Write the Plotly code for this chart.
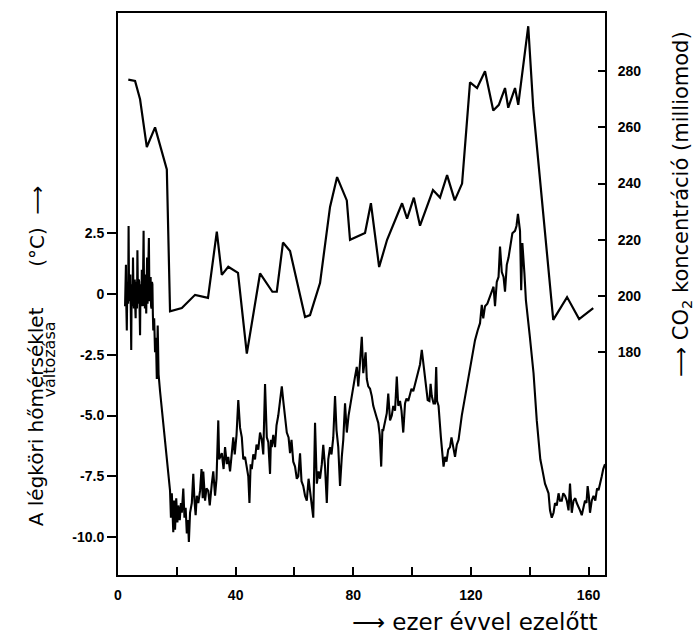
import plotly.graph_objects as go

# CO2 concentration (ppm) vs. thousand years before present
co2_age = [3.5, 5.8, 7.5, 9.8, 12.6, 16.0, 16.6, 17.7, 21.7, 26.2, 30.6, 33.6, 35.3, 37.5, 40.8,
           43.8, 48.3, 52.5, 54.0, 56.1, 58.5, 63.6, 65.3, 68.7, 72.1, 74.5, 77.8, 78.9, 84.0,
           86.0, 88.8, 91.5, 96.6, 98.3, 100.6, 102.7, 107.1, 109.5, 111.9, 114.5, 117.0, 118.5,
           119.7, 122.1, 124.8, 127.6, 129.5, 131.6, 132.7, 135.0, 136.1, 139.5, 141.2, 148.0,
           152.7, 156.8, 161.6]
co2_ppm = [277, 276.5, 270, 253, 260, 247, 245, 194.5, 195.7, 200.4, 199.3, 222.9, 207.5, 210.4, 208.2,
           179.5, 208, 201.5, 201.5, 219, 216, 192.5, 193.2, 204.6, 231.7, 242.3, 234, 220, 222.4,
           233, 210.3, 220, 233, 227.5, 235, 225, 237.7, 235, 243, 234, 240, 260,
           276, 274, 280, 266, 268, 274, 267, 274, 268, 296, 267, 191.5,
           199.6, 191.8, 195.7]

# Temperature change (deg C) vs. thousand years before present
temp_age = [2.40, 2.55, 2.70, 2.85, 3.00, 3.15, 3.30, 3.45, 3.60, 3.75, 3.90, 4.05, 4.20, 4.35, 4.50,
            4.65, 4.80, 4.95, 5.10, 5.25, 5.40, 5.55, 5.70, 5.85, 6.00, 6.15, 6.30, 6.45, 6.60, 6.75,
            6.90, 7.05, 7.20, 7.35, 7.50, 7.65, 7.80, 7.95, 8.10, 8.25, 8.40, 8.55, 8.70, 8.85, 9.00,
            9.15, 9.30, 9.45, 9.60, 9.75, 9.90, 10.05, 10.20, 10.35, 10.50, 10.65, 10.80, 10.95, 11.10,
            11.25, 11.40, 11.55, 11.70, 11.85, 12.00,
            12.3, 12.6, 12.9, 13.2, 13.5, 13.8, 14.3,
            17.7, 18.0, 18.3, 18.8, 19.1, 19.4, 19.8, 20.2, 20.5, 21.0, 21.4, 21.7, 22.2, 22.6, 23.0,
            23.4, 23.8, 24.1, 24.5, 25.1, 25.6, 26.0, 26.4, 26.8, 27.3, 27.9, 28.4, 28.8, 29.0, 29.6,
            30.1, 30.7, 31.2, 31.9, 32.4, 33.0, 33.5, 34.1, 34.4,
            35.3, 35.9, 36.4, 37.0, 37.5, 38.1, 38.7, 39.2, 39.7, 40.3, 40.9, 41.5, 42.1, 42.6, 43.2,
            43.8, 44.3, 44.7, 45.1, 45.5, 46.0, 46.6, 47.1, 47.7, 48.3, 48.9, 49.4, 50.0, 50.3, 50.6,
            51.1, 51.7, 52.0, 52.3, 52.8, 53.4, 53.9, 54.5, 55.1, 55.7, 56.2, 56.8, 57.4, 58.0, 58.5,
            59.0, 59.6, 60.2, 60.8, 61.3, 61.9, 62.4, 63.0, 63.6, 64.2, 64.8, 65.3, 65.9, 66.4, 67.0,
            67.6, 68.2, 68.7, 69.3, 69.8, 70.4, 71.0, 71.5, 72.1, 72.6, 73.2, 73.8, 74.3, 74.9, 75.5,
            76.1, 76.6, 77.2, 77.8, 78.4, 78.9, 79.5, 80.0, 80.6, 81.2, 81.7, 82.3, 82.9, 83.4, 83.8,
            84.2, 84.6, 85.1, 85.7, 86.3, 86.8, 87.4, 88.0, 88.5, 89.0, 89.5, 89.9, 90.2, 90.8, 91.4,
            91.9, 92.5, 93.1, 93.6, 94.2, 94.8, 95.3, 95.9, 96.4, 97.0, 97.6, 98.1, 98.7, 99.3, 99.8,
            100.4, 101.0, 101.5, 102.1, 102.7, 103.3, 103.8, 104.4, 104.9, 105.3, 105.9, 106.3, 106.7,
            107.3, 107.8, 108.2, 108.5, 109.0, 109.8, 110.7, 111.2, 111.7, 112.3, 112.9, 113.4, 114.0,
            114.6, 115.2, 115.8, 116.9, 118.0, 119.2, 120.3, 121.4, 122.3, 123.1, 123.7, 124.2, 124.8,
            125.6, 126.5, 127.1, 127.7, 128.2, 128.8, 129.4, 129.9, 130.5, 131.1, 131.6, 132.2, 132.8,
            133.4, 134.1, 135.0, 135.5, 136.0, 136.4, 136.7, 137.1, 137.5, 138.2, 138.7, 140.0, 141.3,
            142.4, 143.6, 144.1, 144.6, 145.2, 145.8, 146.4, 146.9, 147.5, 148.1, 148.6, 149.2, 149.8,
            150.3, 150.9, 151.4, 152.0, 152.6, 153.2, 153.7, 154.3, 154.9, 155.5, 156.0, 156.6, 157.1,
            157.7, 158.2, 158.8, 159.3, 159.7, 160.1, 160.5, 161.1, 161.7, 162.3, 162.9, 163.4, 164.0,
            164.5, 165.0, 165.6]
temp_dc = [-0.5, 0.4, 1.2, -0.6, -1.5, 0.3, 0.5, -0.4, 2.8, 0.2, -0.3, 0.6, 0.8, -0.7, -2.3,
           0.4, 0.2, -0.5, 1.5, 0.1, -0.6, 0.5, 0.6, -0.5, -1.0, 0.5, 0.4, -0.6, 1.8, 0.3,
           -0.4, 0.6, 0.5, -0.7, -1.7, 0.4, 0.3, -0.5, 1.0, 0.2, -0.5, 0.6, 2.6, 0.3, 0.0,
           -0.6, 0.8, 0.1, -0.8, 0.5, 1.5, -0.4, 0.2, 0.7, 2.3, 0.4, -0.3, 0.5, 0.7,
           -0.5, -0.6, 0.5, 0.4, -0.8, -1.5,
           -1.0, -2.4, -1.8, -3.5, -1.3, -3.3, -4.0,
           -8.1, -9.2, -8.2, -9.8, -8.5, -9.7, -8.4, -9.4, -8.7, -9.3, -8.6, -9.0, -8.0, -9.2, -8.8,
           -9.85, -9.3, -10.2, -9.0, -8.6, -7.4, -8.5, -9.1, -8.3, -8.6, -8.1, -7.2, -8.4, -7.3, -8.5,
           -8.0, -8.1, -8.7, -7.8, -7.3, -8.3, -7.6, -5.2, -6.8,
           -6.55, -7.2, -6.3, -7.0, -6.7, -7.3, -6.55, -5.9, -6.6, -5.8, -4.36, -5.5, -5.9, -6.8, -6.7,
           -7.2, -7.5, -8.6, -7.0, -7.2, -6.6, -6.8, -6.2, -6.4, -5.7, -6.0, -6.6, -3.7, -5.4, -5.9,
           -6.1, -7.4, -6.0, -6.3, -5.8, -6.3, -5.4, -5.0, -4.4, -3.8, -4.4, -5.0, -5.7, -5.9, -6.55,
           -6.0, -6.9, -7.1, -7.6, -7.5, -6.55, -7.7, -7.9, -8.3, -8.5, -7.6, -8.07, -8.6, -9.2, -5.3,
           -7.8, -7.3, -7.6, -7.0, -6.2, -7.1, -8.6, -6.8, -6.3, -6.6, -5.9, -4.2, -5.6, -6.3, -7.9,
           -6.7, -6.0, -4.5, -5.7, -5.0, -4.6, -4.3, -3.8, -3.4, -3.0, -3.8, -2.8, -1.76, -3.26, -2.9,
           -2.4, -3.5, -3.8, -3.9, -4.2, -4.6, -4.9, -5.1, -5.3, -5.8, -7.1, -5.6, -5.6, -5.2, -4.9,
           -4.1, -5.2, -5.0, -4.6, -4.8, -3.4, -4.6, -4.4, -4.8, -5.7, -4.5, -4.3, -4.4, -4.1, -3.9,
           -4.0, -3.7, -3.5, -3.26, -2.9, -2.3, -2.8, -3.26, -3.9, -4.36, -4.4, -3.7, -4.2,
           -4.5, -4.5, -3.0, -4.4, -4.6, -5.9, -7.1, -6.7, -6.9, -6.4, -6.3, -5.9, -6.3,
           -6.7, -6.2, -6.0, -5.0, -4.2, -3.4, -2.6, -1.9, -1.5, -1.2, -0.45, -1.0, -0.5,
           -0.4, -0.1, 0.1, 0.3, -0.5, 0.5, 0.7, 1.95, 0.9, 0.7, 0.1, 1.2, 1.5,
           2.0, 2.5, 2.6, 2.8, 3.3, 2.7, 2.6, 0.16, 2.1, 0.85, -0.25, -1.7, -3.26,
           -5.2, -6.8, -7.1, -7.4, -7.8, -8.0, -8.2, -8.9, -9.2, -9.0, -8.6, -8.7, -8.2,
           -8.5, -8.5, -8.2, -8.3, -8.5, -8.9, -7.8, -9.0, -8.5, -8.4, -8.6, -8.75, -8.9,
           -9.1, -8.8, -8.5, -8.6, -7.9, -8.3, -9.0, -8.5, -8.3, -8.5, -8.0, -8.07, -7.8,
           -7.5, -7.2, -7.0]

x_tickvals = [0, 20, 40, 60, 80, 100, 120, 140, 160]
x_ticktext = ["0", "", "40", "", "80", "", "120", "", "160"]
t_tickvals = [2.5, 0, -2.5, -5, -7.5, -10]
t_ticktext = ["2.5", "0", "-2.5", "-5.0", "-7.5", "-10.0"]
c_tickvals = [180, 200, 220, 240, 260, 280]
c_ticktext = ["180", "200", "220", "240", "260", "280"]


def bold(labels):
    return ["<b>" + s + "</b>" if s else "" for s in labels]


tickfont = dict(family="Liberation Sans", size=14, color="black")
fig = go.Figure()
fig.add_trace(go.Scatter(x=temp_age, y=temp_dc, mode="lines",
                         line=dict(color="black", width=2.1), yaxis="y", hoverinfo="skip"))
fig.add_trace(go.Scatter(x=co2_age, y=co2_ppm, mode="lines",
                         line=dict(color="black", width=2.2), yaxis="y2", hoverinfo="skip"))

fig.update_layout(
    width=699, height=638,
    margin=dict(l=118, r=94, t=13, b=63),
    paper_bgcolor="white", plot_bgcolor="white", showlegend=False,
    xaxis=dict(range=[0, 165.6], tickvals=x_tickvals, ticktext=bold(x_ticktext),
               ticks="inside", ticklen=8, tickwidth=1.5, tickcolor="black",
               showline=True, linecolor="black", linewidth=2, mirror=True,
               showgrid=False, zeroline=False, tickfont=tickfont, ticklabelstandoff=6),
    yaxis=dict(range=[-11.56, 11.56], tickvals=t_tickvals, ticktext=bold(t_ticktext),
               ticks="outside", ticklen=9, tickwidth=1.5, tickcolor="black",
               showline=True, linecolor="black", linewidth=2, mirror=True,
               showgrid=False, zeroline=False, tickfont=tickfont),
    yaxis2=dict(range=[100.7, 300.7], tickvals=c_tickvals, ticktext=bold(c_ticktext),
                overlaying="y", side="right",
                ticks="inside", ticklen=7, tickwidth=1.5, tickcolor="black",
                showline=True, linecolor="black", linewidth=2,
                showgrid=False, zeroline=False, tickfont=tickfont, ticklabelstandoff=8),
)

tfont = dict(family="DejaVu Sans", color="black")
common = dict(xref="paper", yref="paper", showarrow=False, xanchor="center", yanchor="middle")
fig.add_annotation(text="A légköri hőmérséklet", x=-0.168, y=0.281, textangle=-90,
                   font=dict(size=20, **tfont), **common)
fig.add_annotation(text="változása", x=-0.140, y=0.383, textangle=-90,
                   font=dict(size=16, **tfont), **common)
fig.add_annotation(text="(°C)  ⟶", x=-0.168, y=0.62, textangle=-90,
                   font=dict(size=20, **tfont), **common)
fig.add_annotation(text="⟶ CO<sub>2</sub> koncentráció (milliomod)", x=1.158, y=0.66,
                   textangle=-90, font=dict(size=21, **tfont), **common)
fig.add_annotation(text="⟶ ezer évvel ezelőtt", x=0.733, y=-0.0836,
                   font=dict(size=23, **tfont), **common)

fig.write_html("out.html")
